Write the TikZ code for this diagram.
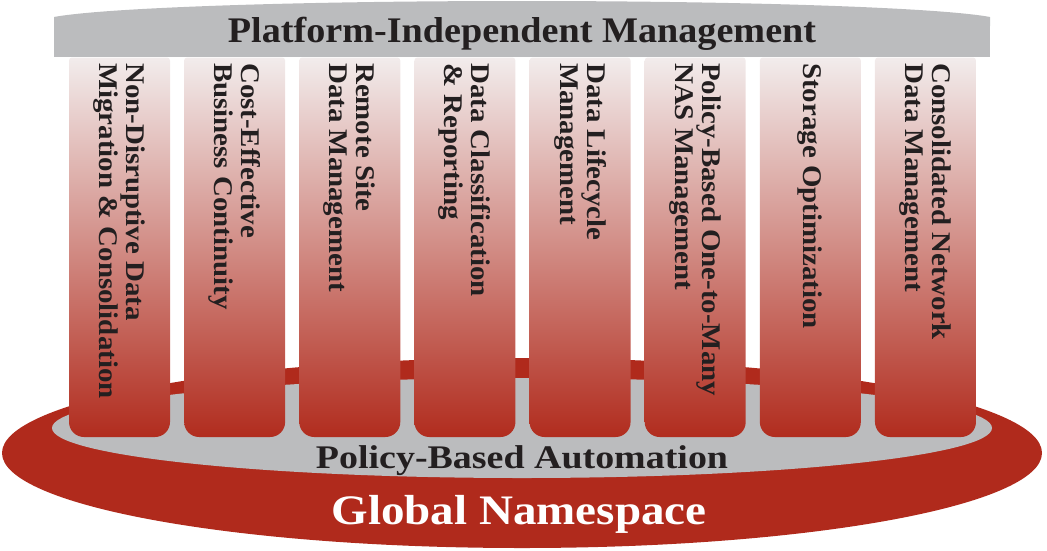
\documentclass[tikz,border=0pt]{standalone}
\usepackage{fontspec}
\setmainfont{Liberation Serif}
\newfontfamily\fontTop[FakeStretch=1.06]{Liberation Serif}
\newfontfamily\fontPil[FakeStretch=1.07]{Liberation Serif}
\newfontfamily\fontPol[FakeStretch=1.15]{Liberation Serif}
\newfontfamily\fontGlo[FakeStretch=1.12]{Liberation Serif}
\definecolor{barGray}{RGB}{187,188,190}
\definecolor{nsRed}{RGB}{176,42,28}
\definecolor{pTop}{RGB}{242,236,236}
\definecolor{pMid}{RGB}{211,130,112}
\definecolor{pBot}{RGB}{177,44,30}
\definecolor{txt}{RGB}{35,31,32}
\begin{document}
\begin{tikzpicture}[x=1pt,y=-1pt,
  pillar/.style={top color=pTop, middle color=pMid, bottom color=pBot, draw=none},
  pillartext/.style={rotate=-90, anchor=west, inner sep=0pt, align=left,
    font=\fontPil\fontsize{27}{27}\selectfont\bfseries, text=txt},
  bigtext/.style={anchor=base, inner sep=0pt, text=txt}]
\useasboundingbox (0,0) rectangle (1047,550);
% base ellipses
\fill[nsRed] (522,453) ellipse [x radius=520, y radius=95];
\fill[barGray] (522,428) ellipse [x radius=470, y radius=50];
% pillars
\foreach \i in {0,...,7}{
  \pgfmathsetmacro{\xa}{69+115.14*\i}
  \pgfmathsetmacro{\xb}{\xa+101}
  \path[pillar] (\xa,200) [rounded corners=3pt] -- (\xa,57.5) -- (\xb,57.5) -- (\xb,200)
     [rounded corners=15pt] -- (\xb,437) -- (\xa,437) -- cycle;
}
% top bar
\begin{scope}
  \clip (54,0) rectangle (990,56.5);
  \fill[barGray] (522,21.6) ellipse [x radius=480, y radius=20.6];
  \fill[barGray] (54,21.6) rectangle (990,56.5);
\end{scope}
\node[bigtext, font=\fontTop\fontsize{36}{36}\selectfont\bfseries] (platform) at (522,42) {Platform-Independent Management};
% pillar texts
\node[pillartext] (t1) at (119.5,63) {Non-Disruptive Data\\Migration \& Consolidation};
\node[pillartext] (t2) at (234.64,63) {Cost-Effective\\Business Continuity};
\node[pillartext] (t3) at (349.78,63) {Remote Site\\Data Management};
\node[pillartext] (t4) at (464.92,63) {Data Classification\\\& Reporting};
\node[pillartext] (t5) at (580.06,63) {Data Lifecycle\\Management};
\node[pillartext] (t6) at (695.2,63) {Policy-Based One-to-Many\\NAS Management};
\node[pillartext] (t7) at (810.34,63) {Storage Optimization};
\node[pillartext] (t8) at (925.48,63) {Consolidated Network\\Data Management};
% bottom labels
\node[bigtext, font=\fontPol\fontsize{33}{33}\selectfont\bfseries] (policy) at (522,468) {Policy-Based Automation};
\node[bigtext, text=white, font=\fontGlo\fontsize{42}{44}\selectfont\bfseries] (global) at (519,524) {Global Namespace};
\end{tikzpicture}
\end{document}
